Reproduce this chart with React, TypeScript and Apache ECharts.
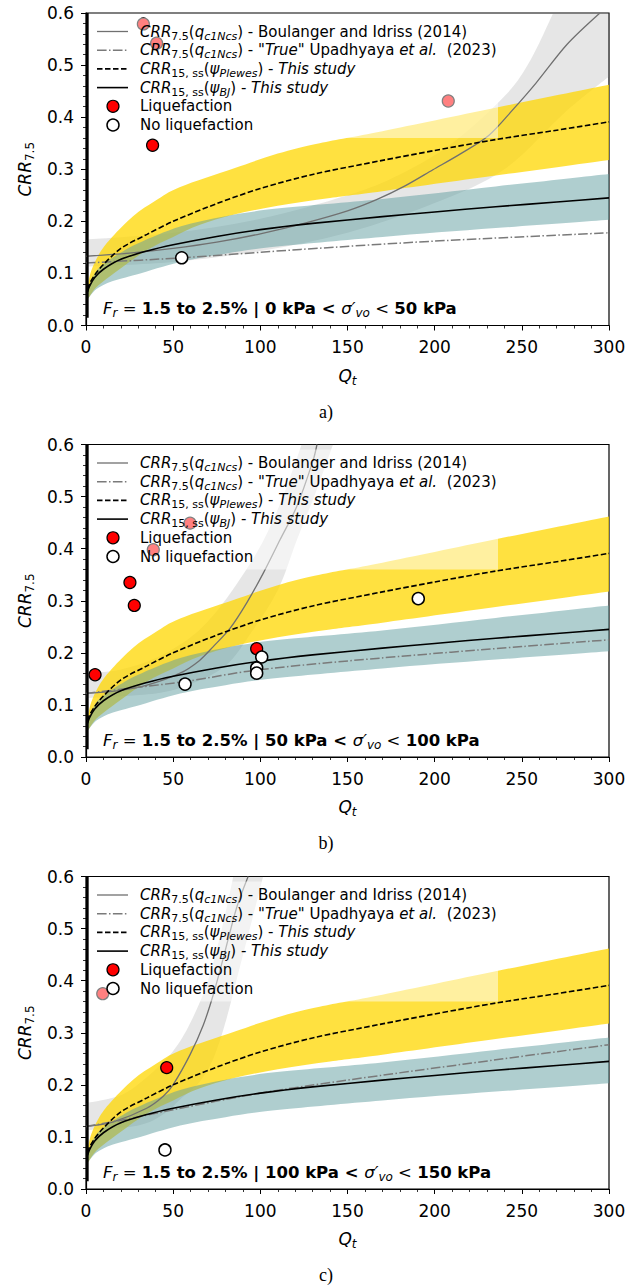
import React, { useEffect, useRef } from "react";
import * as echarts from "echarts";

// ---------- Axis ticks ----------
const X_TICKS = [0, 50, 100, 150, 200, 250, 300];
const Y_TICKS = [0, 0.1, 0.2, 0.3, 0.4, 0.5, 0.6];

// ---------- "This study" curves (same in all panels) [Qt, CRR] ----------
const plewesLine = [[0.9, 0.07], [2, 0.08], [5, 0.097], [10, 0.117], [20, 0.148], [35, 0.175], [50, 0.2], [75, 0.234], [100, 0.263], [130, 0.29], [170, 0.317], [200, 0.336], [235, 0.357], [270, 0.375], [300, 0.391]];
const plewesUpper = [[0.9, 0.075], [3, 0.105], [8, 0.14], [15, 0.17], [27, 0.21], [40, 0.24], [54, 0.266], [85, 0.302], [110, 0.33], [134, 0.35], [170, 0.373], [235, 0.418], [300, 0.462]];
const plewesLower = [[0.9, 0.05], [5, 0.07], [10, 0.085], [20, 0.11], [35, 0.145], [50, 0.17], [65, 0.193], [85, 0.213], [110, 0.23], [140, 0.245], [170, 0.258], [235, 0.288], [300, 0.318]];
const bjLine = [[0.9, 0.065], [2, 0.075], [5, 0.092], [10, 0.108], [20, 0.127], [35, 0.143], [50, 0.155], [75, 0.171], [100, 0.184], [130, 0.196], [170, 0.209], [200, 0.218], [235, 0.228], [270, 0.237], [300, 0.245]];
const bjUpper = [[0.9, 0.07], [5, 0.1], [10, 0.118], [20, 0.14], [30, 0.158], [54, 0.19], [80, 0.21], [111, 0.225], [170, 0.243], [235, 0.267], [300, 0.291]];
const bjLower = [[0.9, 0.05], [6, 0.07], [15, 0.085], [29, 0.098], [54, 0.122], [80, 0.138], [111, 0.152], [170, 0.17], [235, 0.187], [300, 0.203]];
const edgeLine = [[0.9, 0.015], [0.9, 0.6]];

// ---------- Panel a) 0 < σ'vo < 50 kPa ----------
const biA = [[0, 0.133], [25, 0.139], [50, 0.148], [75, 0.16], [100, 0.176], [125, 0.196], [150, 0.22], [167, 0.242], [183, 0.268], [199, 0.299], [215, 0.33], [231, 0.365], [245, 0.415], [258, 0.465], [276, 0.54], [294.8, 0.6]];
const biUpperA = [[0, 0.165], [50, 0.178], [100, 0.205], [150, 0.25], [180, 0.29], [210, 0.35], [240, 0.44], [255, 0.51], [268, 0.6]];
const biCornerA = [[300, 0.6]];
const biLowerA = [[0, 0.113], [50, 0.122], [100, 0.143], [150, 0.178], [200, 0.235], [240, 0.3], [275, 0.41], [300, 0.478]];
const trueA = [[0, 0.12], [55, 0.13], [123, 0.146], [200, 0.162], [300, 0.178]];
const liqA = [[32.9, 0.579], [40.5, 0.542], [38.2, 0.346], [207.8, 0.431]];
const noLiqA = [[54.9, 0.13]];

// ---------- Panel b) 50 < σ'vo < 100 kPa ----------
const biB = [[0, 0.122], [20, 0.128], [35, 0.138], [54, 0.161], [65, 0.185], [73, 0.212], [82.6, 0.247], [92.2, 0.296], [101.7, 0.353], [111.3, 0.417], [120.9, 0.481], [130.4, 0.571], [132.5, 0.6]];
const biUpperB = [[0, 0.16], [20, 0.168], [40, 0.19], [60, 0.23], [75, 0.28], [90, 0.35], [102, 0.417], [113, 0.5], [123.7, 0.6]];
const biLowerB = [[0, 0.113], [40, 0.122], [60, 0.14], [80, 0.175], [95, 0.24], [110, 0.32], [121, 0.417], [132, 0.51], [141.7, 0.6]];
const trueB = [[0, 0.122], [20, 0.13], [57, 0.145], [98, 0.167], [169, 0.19], [250, 0.212], [300, 0.225]];
const liqB = [[5.2, 0.158], [25.2, 0.335], [27.7, 0.291], [59.7, 0.449], [38.6, 0.398], [97.9, 0.208]];
const noLiqB = [[100.8, 0.192], [97.9, 0.171], [97.9, 0.161], [56.8, 0.14], [190.6, 0.304]];

// ---------- Panel c) 100 < σ'vo < 150 kPa ----------
const biC = [[0, 0.12], [15.7, 0.129], [34.8, 0.155], [44.3, 0.178], [50.1, 0.201], [59.7, 0.258], [67.3, 0.315], [73, 0.373], [78.8, 0.444], [86.4, 0.54], [93, 0.6]];
const biUpperC = [[0, 0.165], [20, 0.18], [35, 0.215], [50, 0.265], [60, 0.32], [70, 0.4], [78, 0.5], [84.5, 0.6]];
const biLowerC = [[0, 0.113], [30, 0.122], [45, 0.145], [55, 0.175], [65, 0.205], [73, 0.25], [80, 0.32], [87, 0.41], [94, 0.5], [101.6, 0.6]];
const trueC = [[0, 0.12], [20, 0.132], [50, 0.152], [80, 0.172], [111, 0.19], [169, 0.218], [235, 0.248], [300, 0.277]];
const liqC = [[9.6, 0.375], [46.3, 0.233]];
const noLiqC = [[45.3, 0.075]];

const stressLabels = ["0 kPa < ", "50 kPa < ", "100 kPa < "];
const stressUpper = ["50 kPa", "100 kPa", "150 kPa"];
const captions = ["a)", "b)", "c)"];

const legendTexts = [
  "{i|CRR}{s|7.5}{n|(}{i|q}{si|c1Ncs}{n|) - Boulanger and Idriss (2014)}",
  '{i|CRR}{s|7.5}{n|(}{i|q}{si|c1Ncs}{n|) - "}{i|True}{n|" Upadhyaya }{i|et al.}{n|  (2023)}',
  "{i|CRR}{s|15, ss}{n|(}{i|ψ}{si|Plewes}{n|) - }{i|This study}",
  "{i|CRR}{s|15, ss}{n|(}{i|ψ}{si|BJ}{n|) - }{i|This study}",
  "{n|Liquefaction}",
  "{n|No liquefaction}",
];

// ---------- Layout ----------
const FONT = "DejaVu Sans";
const GRID_LEFT = 86;
const GRID_W = 523;
const GRID_H = 312.5;
const TOPS = [13, 444.5, 876.5];

const panelData = [
  { bi: biA, biU: biUpperA, biK: biCornerA, biL: biLowerA, tr: trueA, liq: liqA, noLiq: noLiqA },
  { bi: biB, biU: biUpperB, biK: [] as number[][], biL: biLowerB, tr: trueB, liq: liqB, noLiq: noLiqB },
  { bi: biC, biU: biUpperC, biK: [] as number[][], biL: biLowerC, tr: trueC, liq: liqC, noLiq: noLiqC },
];

const COL_GRAY_BAND = "rgba(128,128,128,0.2)";
const COL_YELLOW = "rgba(255,215,0,0.75)";
const COL_TEAL = "rgba(95,158,160,0.5)";
const COL_BI = "#707070";
const COL_TRUE = "#7a7a7a";
const DASH = [5.5, 2.5];
const DASHDOT = [9.6, 2.4, 1.5, 2.4];

function richStyles(size: number) {
  const lh = Math.round(size * 1.3);
  const base = { fontFamily: FONT, fontSize: size, color: "#000", lineHeight: lh, verticalAlign: "middle" as const };
  const sub = { fontFamily: FONT, fontSize: Math.round(size * 0.7), color: "#000", verticalAlign: "bottom" as const, lineHeight: Math.round(size * 0.7) };
  return {
    n: { ...base },
    i: { ...base, fontStyle: "italic" },
    b: { ...base, fontWeight: "bold" },
    s: { ...sub },
    si: { ...sub, fontStyle: "italic" },
  };
}

// Catmull-Rom through pixel points -> cubic Bezier commands (no leading M)
function crSegments(p: number[][]) {
  let d = "";
  for (let i = 0; i < p.length - 1; i++) {
    const p0 = p[Math.max(i - 1, 0)];
    const p1 = p[i];
    const p2 = p[i + 1];
    const p3 = p[Math.min(i + 2, p.length - 1)];
    const c1x = p1[0] + (p2[0] - p0[0]) / 6;
    const c1y = p1[1] + (p2[1] - p0[1]) / 6;
    const c2x = p2[0] - (p3[0] - p1[0]) / 6;
    const c2y = p2[1] - (p3[1] - p1[1]) / 6;
    d += ` C${c1x.toFixed(2)},${c1y.toFixed(2)} ${c2x.toFixed(2)},${c2y.toFixed(2)} ${p2[0].toFixed(2)},${p2[1].toFixed(2)}`;
  }
  return d;
}

function band(name: string, upper: number[][], corner: number[][], lower: number[][], color: string, idx: number, z: number) {
  return {
    type: "custom",
    name,
    xAxisIndex: idx,
    yAxisIndex: idx,
    z,
    silent: true,
    clip: true,
    data: [[0, 0]],
    renderItem: (_params: any, api: any) => {
      const up = upper.map((p) => api.coord(p));
      const lo = lower.slice().reverse().map((p) => api.coord(p));
      const co = corner.map((p) => api.coord(p));
      let d = `M${up[0][0]},${up[0][1]}` + crSegments(up);
      co.forEach((c) => { d += ` L${c[0]},${c[1]}`; });
      d += ` L${lo[0][0]},${lo[0][1]}` + crSegments(lo) + " Z";
      return { type: "path", shape: { pathData: d }, style: { fill: color } };
    },
  };
}

function line(name: string, data: number[][], color: string, width: number, type: any, idx: number, z: number) {
  return {
    type: "line",
    name,
    xAxisIndex: idx,
    yAxisIndex: idx,
    data,
    z,
    symbol: "none",
    showSymbol: false,
    smooth: 0.3,
    silent: true,
    lineStyle: { color, width, type },
  };
}

function buildOption() {
  const grid: any[] = [];
  const xAxis: any[] = [];
  const yAxis: any[] = [];
  const series: any[] = [];
  const graphic: any[] = [];

  TOPS.forEach((top, i) => {
    const d = panelData[i];
    grid.push({ left: GRID_LEFT, top, width: GRID_W, height: GRID_H, show: true, borderColor: "#000", borderWidth: 1.2, backgroundColor: "transparent" });
    xAxis.push({
      type: "value",
      gridIndex: i,
      min: X_TICKS[0],
      max: X_TICKS[X_TICKS.length - 1],
      interval: X_TICKS[1] - X_TICKS[0],
      axisLine: { show: true, onZero: false, lineStyle: { color: "#000", width: 1.2 } },
      axisTick: { show: true, length: 5, lineStyle: { color: "#000", width: 1 } },
      minorTick: { show: true, splitNumber: 5, length: 3, lineStyle: { color: "#000", width: 0.8 } },
      splitLine: { show: false },
      minorSplitLine: { show: false },
      axisLabel: { color: "#000", fontSize: 17, fontFamily: FONT, margin: 13 },
      name: "{i|Q}{si|t}",
      nameLocation: "middle",
      nameGap: 39,
      nameTextStyle: { rich: richStyles(17) },
    });
    yAxis.push({
      type: "value",
      gridIndex: i,
      min: Y_TICKS[0],
      max: Y_TICKS[Y_TICKS.length - 1],
      interval: 0.1,
      axisLine: { show: true, onZero: false, lineStyle: { color: "#000", width: 1.2 } },
      axisTick: { show: true, length: 5, lineStyle: { color: "#000", width: 1 } },
      minorTick: { show: true, splitNumber: 5, length: 3, lineStyle: { color: "#000", width: 0.8 } },
      splitLine: { show: false },
      minorSplitLine: { show: false },
      axisLabel: { color: "#000", fontSize: 17, fontFamily: FONT, margin: 12, formatter: (v: number) => v.toFixed(1) },
      name: "{i|CRR}{s|7.5}",
      nameLocation: "middle",
      nameRotate: 90,
      nameGap: 46,
      nameTextStyle: { rich: richStyles(17) },
    });

    series.push(band("B&I band", d.biU, d.biK, d.biL, COL_GRAY_BAND, i, 1));
    series.push(band("Plewes band", plewesUpper, [], plewesLower, COL_YELLOW, i, 2));
    series.push(band("BJ band", bjUpper, [], bjLower, COL_TEAL, i, 3));
    series.push(line("CRR7.5(qc1Ncs) - Boulanger and Idriss (2014)", d.bi, COL_BI, 1.3, "solid", i, 5));
    series.push(line('CRR7.5(qc1Ncs) - "True" Upadhyaya et al. (2023)', d.tr, COL_TRUE, 1.5, DASHDOT, i, 5));
    series.push(line("CRR15,ss(ψPlewes) - This study", plewesLine, "#000", 1.6, DASH, i, 6));
    series.push(line("CRR15,ss(ψBJ) - This study", bjLine, "#000", 1.6, "solid", i, 6));
    series.push({ ...line("edge", edgeLine, "#000", 2.2, "solid", i, 6), smooth: false });
    series.push({
      type: "scatter", name: "Liquefaction", xAxisIndex: i, yAxisIndex: i, data: d.liq, z: 8,
      symbol: "circle", symbolSize: 12, silent: true,
      itemStyle: { color: "#ff0000", borderColor: "#000", borderWidth: 1.2, opacity: 1 },
    });
    series.push({
      type: "scatter", name: "No liquefaction", xAxisIndex: i, yAxisIndex: i, data: d.noLiq, z: 8,
      symbol: "circle", symbolSize: 12, silent: true,
      itemStyle: { color: "#ffffff", borderColor: "#000", borderWidth: 1.5, opacity: 1 },
    });

    // translucent legend frame
    graphic.push({ type: "rect", z: 100, silent: true, shape: { x: 90, y: top + 5, width: 408, height: 120 }, style: { fill: "rgba(255,255,255,0.5)" } });
    const rowY = (k: number) => top + 18.5 + 18.7 * k;
    graphic.push({ type: "line", z: 101, shape: { x1: 97, y1: rowY(0), x2: 128, y2: rowY(0) }, style: { stroke: COL_BI, lineWidth: 1.3 } });
    graphic.push({ type: "line", z: 101, shape: { x1: 97, y1: rowY(1), x2: 128, y2: rowY(1) }, style: { stroke: COL_TRUE, lineWidth: 1.5, lineDash: DASHDOT } });
    graphic.push({ type: "line", z: 101, shape: { x1: 97, y1: rowY(2), x2: 128, y2: rowY(2) }, style: { stroke: "#000", lineWidth: 1.6, lineDash: DASH } });
    graphic.push({ type: "line", z: 101, shape: { x1: 97, y1: rowY(3), x2: 128, y2: rowY(3) }, style: { stroke: "#000", lineWidth: 1.6 } });
    graphic.push({ type: "circle", z: 101, shape: { cx: 113, cy: rowY(4), r: 6 }, style: { fill: "#ff0000", stroke: "#000", lineWidth: 1.2 } });
    graphic.push({ type: "circle", z: 101, shape: { cx: 113, cy: rowY(5), r: 6 }, style: { fill: "#fff", stroke: "#000", lineWidth: 1.5 } });
    legendTexts.forEach((t, k) => {
      graphic.push({ type: "text", z: 101, x: 140, y: rowY(k), style: { text: t, rich: richStyles(15), verticalAlign: "middle", align: "left" } });
    });

    // annotation inside the plot
    graphic.push({
      type: "text", z: 101, x: 103, y: top + GRID_H - 17,
      style: {
        text: `{i|F}{si|r}{n| = }{b|1.5 to 2.5% | ${stressLabels[i]}}{i|σ′}{si|vo}{n| < }{b|${stressUpper[i]}}`,
        rich: richStyles(16.5), verticalAlign: "middle", align: "left",
      },
    });
    // caption
    graphic.push({
      type: "text", x: 326, y: top + GRID_H + 86,
      style: { text: captions[i], fontFamily: "Liberation Serif", fontSize: 18, fill: "#000", align: "center", verticalAlign: "middle" },
    });
  });

  return { animation: false, backgroundColor: "#fff", grid, xAxis, yAxis, series, graphic };
}

export default function App() {
  const ref = useRef<HTMLDivElement>(null);
  useEffect(() => {
    if (!ref.current) return;
    const chart = echarts.init(ref.current, undefined, { renderer: "svg" });
    chart.setOption(buildOption() as any);
    return () => chart.dispose();
  }, []);
  return <div ref={ref} style={{ position: "absolute", left: 0, top: 0, width: 639, height: 1287 }} />;
}
